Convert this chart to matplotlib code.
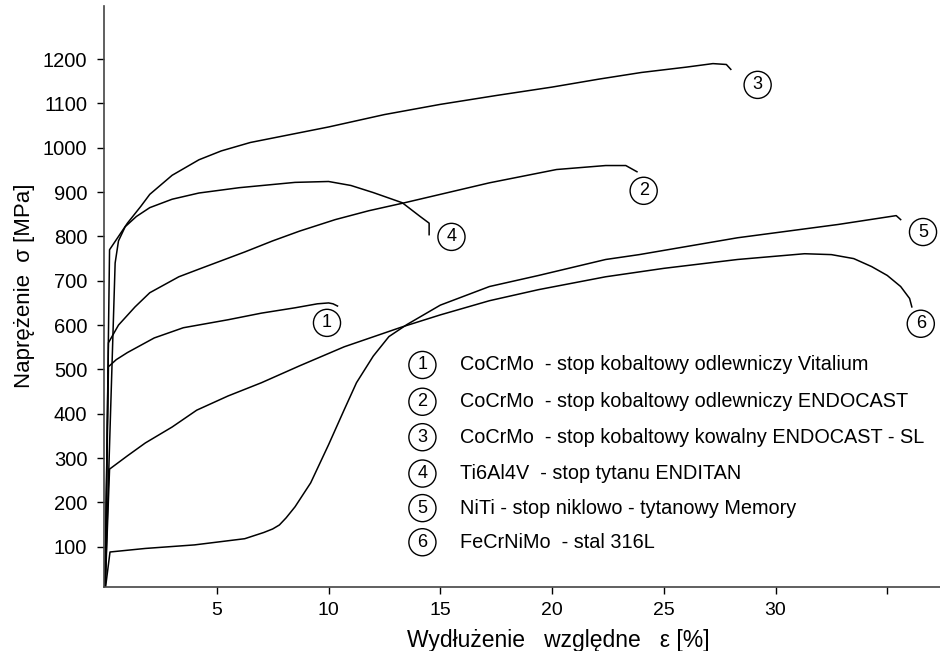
import matplotlib
matplotlib.use("Agg")
import matplotlib.pyplot as plt

plt.rcParams["font.family"] = ["Liberation Sans", "DejaVu Sans"]

# strain [%] / stress [MPa]
eps_1 = [0.0, 0.15, 0.5, 1.0, 2.2, 3.5, 5.5, 7.0, 8.5, 9.5, 10.0, 10.2, 10.4]
sig_1 = [0, 506, 522, 538, 571, 594, 612, 627, 639, 648, 650, 648, 643]

eps_2 = [0.0, 0.15, 0.6, 1.34, 2.0, 3.3, 4.24, 6.25, 7.5, 8.7, 10.3, 11.8, 13.4, 17.2, 20.2,
         22.4, 23.3, 23.8]
sig_2 = [0, 560, 600, 641, 673, 709, 727, 765, 790, 812, 838, 858, 876, 921, 951,
         960, 960, 946]

eps_3 = [0.0, 0.2, 0.6, 1.0, 1.6, 2.0, 3.0, 4.2, 5.2, 6.5, 8.7, 10.0, 12.5, 15.0, 17.5, 20.0,
         22.1, 24.0, 26.0, 27.2, 27.8, 28.0]
sig_3 = [0, 770, 800, 830, 868, 895, 938, 973, 993, 1012, 1034, 1047, 1075, 1098, 1118, 1137,
         1155, 1170, 1182, 1190, 1188, 1177]

eps_4 = [0.0, 0.45, 0.6, 0.9, 1.4, 2.0, 3.0, 4.2, 6.0, 8.5, 10.0, 11.0, 12.0, 13.3, 14.1, 14.5, 14.5]
sig_4 = [0, 740, 790, 822, 845, 865, 884, 898, 910, 922, 924, 915, 899, 876, 845, 830, 804]

eps_5 = [0.0, 0.22, 1.8, 4.0, 6.25, 7.1, 7.5, 7.8, 8.1, 8.5, 9.2, 10.0, 10.7, 11.25, 12.0,
         12.7, 13.5, 15.0, 17.2, 19.4, 22.4, 23.9, 28.3, 32.8, 35.4, 35.6]
sig_5 = [0, 88, 96, 104, 118, 132, 140, 149, 165, 190, 244, 330, 409, 470, 530,
         574, 601, 645, 687, 712, 748, 759, 797, 827, 847, 838]

eps_6 = [0.0, 0.2, 1.0, 1.8, 3.0, 4.1, 5.5, 7.0, 8.7, 10.7, 13.3, 15.0, 17.2, 19.4, 22.4,
         25.0, 28.3, 31.3, 32.5, 33.5, 34.3, 35.0, 35.6, 36.0, 36.1]
sig_6 = [0, 275, 305, 334, 370, 408, 440, 470, 508, 551, 596, 623, 655, 680, 709,
         728, 748, 761, 759, 750, 732, 712, 687, 660, 641]

curve_eps = [eps_1, eps_2, eps_3, eps_4, eps_5, eps_6]
curve_sig = [sig_1, sig_2, sig_3, sig_4, sig_5, sig_6]

# circled number next to the end of each curve
mark_x = [9.93, 24.1, 29.2, 15.5, 36.6, 36.5]
mark_y = [605, 903, 1142, 799, 810, 603]

key_numbers = ["1", "2", "3", "4", "5", "6"]
key_texts = [
    "CoCrMo  - stop kobaltowy odlewniczy Vitalium",
    "CoCrMo  - stop kobaltowy odlewniczy ENDOCAST",
    "CoCrMo  - stop kobaltowy kowalny ENDOCAST - SL",
    "Ti6Al4V  - stop tytanu ENDITAN",
    "NiTi - stop niklowo - tytanowy Memory",
    "FeCrNiMo  - stal 316L",
]
key_y = [510, 427, 347, 265, 187, 110]

x_ticks = [5, 10, 15, 20, 25, 30, 35]
x_ticklabels = ["5", "10", "15", "20", "25", "30", ""]
y_ticks = [100, 200, 300, 400, 500, 600, 700, 800, 900, 1000, 1100, 1200]

fig = plt.figure(figsize=(9.4, 6.51), dpi=100)
ax = fig.add_axes([0.1106, 0.0983, 0.8894, 0.8925])

for e, s in zip(curve_eps, curve_sig):
    ax.plot(e, s, color="black", lw=1.1)

circ = dict(boxstyle="circle,pad=0.28", fc="white", ec="black", lw=1.0)
for n, x, y in zip(key_numbers, mark_x, mark_y):
    ax.text(x, y, n, ha="center", va="center", fontsize=13, bbox=circ)

for n, t, y in zip(key_numbers, key_texts, key_y):
    ax.text(14.2, y, n, ha="center", va="center", fontsize=13, bbox=circ)
    ax.text(15.9, y, t, ha="left", va="center", fontsize=14.3)

ax.set_xlim(-0.05, 37.36)
ax.set_ylim(9, 1320)
ax.set_xticks(x_ticks)
ax.set_xticklabels(x_ticklabels)
ax.set_yticks(y_ticks)
ax.tick_params(axis="y", labelsize=14.5, length=5, width=1, pad=7, direction="out")
ax.tick_params(axis="x", labelsize=14, length=5, width=1, pad=6, direction="out")

for side in ["top", "right"]:
    ax.spines[side].set_visible(False)
for side in ["left", "bottom"]:
    ax.spines[side].set_color("#444444")
    ax.spines[side].set_linewidth(1.2)

ax.set_xlabel("Wydłużenie   względne   ε [%]", fontsize=16.5)
ax.set_ylabel("Naprężenie  σ [MPa]", fontsize=16)
ax.xaxis.set_label_coords(0.544, -0.072)
ax.yaxis.set_label_coords(-0.083, 0.518)

fig.savefig("out.png", dpi=100)
